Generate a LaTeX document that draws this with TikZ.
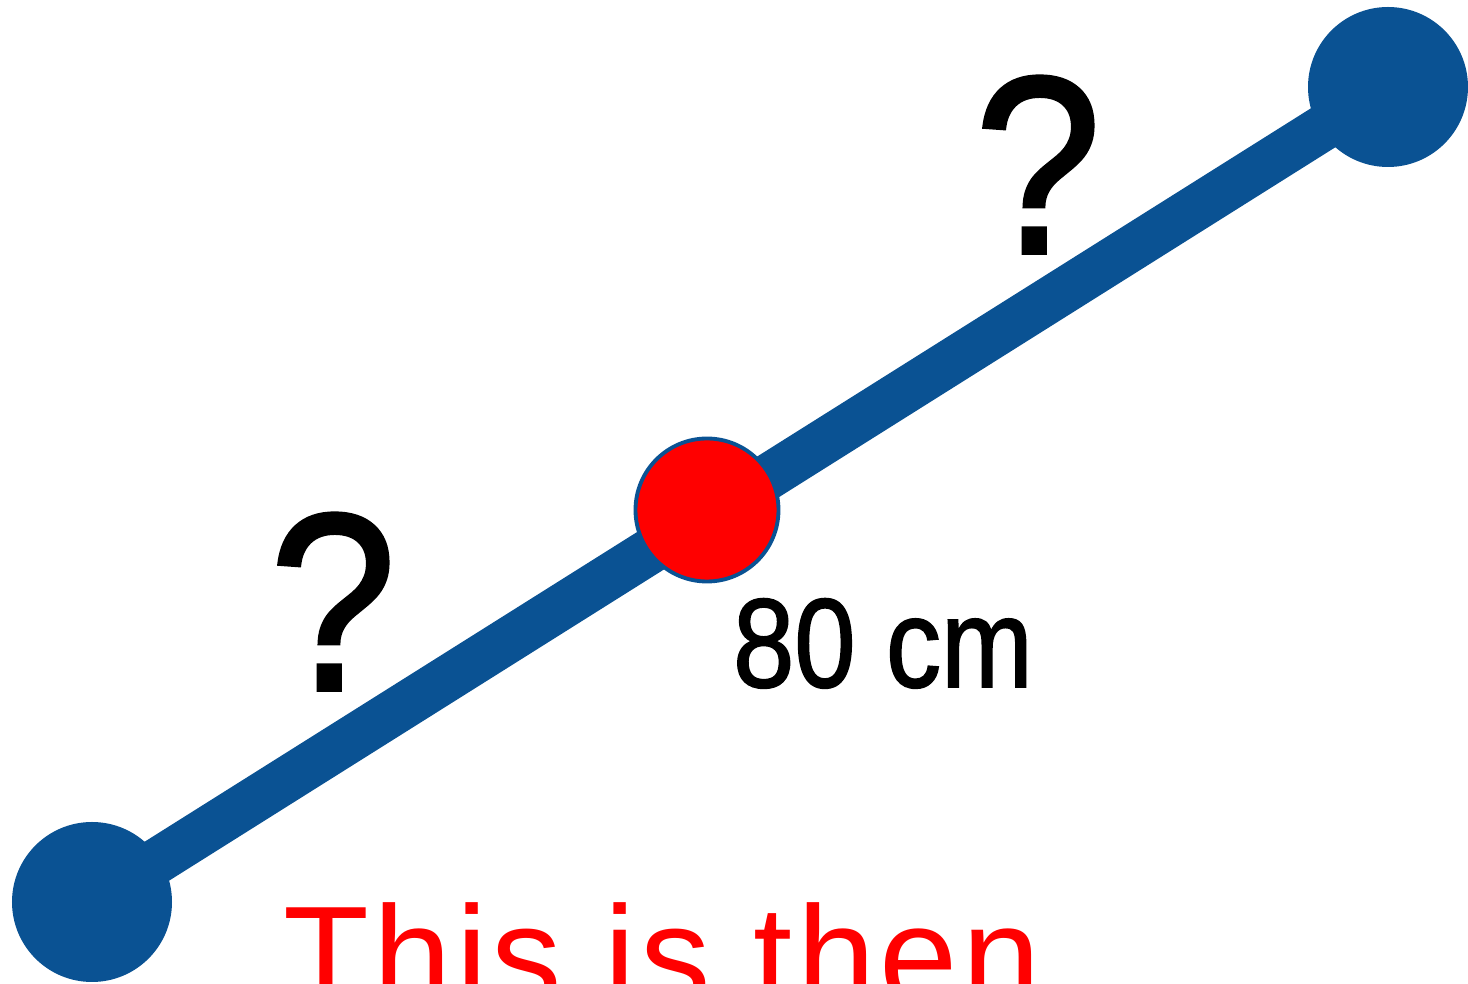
\documentclass[tikz,border=0pt]{standalone}
\usepackage{fontspec}
\setmainfont{Liberation Sans}
\newfontfamily\spacedfont[LetterSpace=3]{Liberation Sans}
\newfontfamily\heavyfont[FakeBold=1.5]{Liberation Sans}
\usetikzlibrary{positioning,backgrounds}
\definecolor{rod-blue}{RGB}{10,82,147}
\definecolor{mid-red}{RGB}{255,0,0}

\begin{document}
\begin{tikzpicture}[
    endball/.style={circle, fill=rod-blue, inner sep=0pt, minimum size=1.6cm},
    midball/.style={circle, draw=rod-blue, line width=1.1pt, fill=mid-red, inner sep=0pt, minimum size=1.43cm},
    rod/.style={rod-blue, line width=0.46cm},
    qmark/.style={font=\fontsize{72}{80}\heavyfont, xscale=0.9, anchor=base, inner sep=0pt}]

    \path[use as bounding box, clip] (0,0) rectangle (14.68,9.84);

    % Balls
    \node[endball] (left) at (0.92,0.82) {};
    \node[endball] (right) at (13.88,8.97) {};
    \node[midball] (mid) at (7.07,4.74) {};

    % Rod
    \begin{scope}[on background layer]
        \draw[rod] (left.center) -- (right.center);
    \end{scope}

    % Labels
    \node[qmark] (qleft) at (3.33,2.94) {?};
    \node[qmark] (qright) at (10.38,7.31) {?};
    \node[font=\fontsize{36}{40}\heavyfont, xscale=0.87, anchor=base, inner sep=0pt] (dist) at (8.83,2.97) {80 cm};
    \node[font=\fontsize{40}{46}\spacedfont, text=mid-red, anchor=base, inner sep=0pt] (note) at (6.62,-0.21) {This is then};
\end{tikzpicture}
\end{document}
